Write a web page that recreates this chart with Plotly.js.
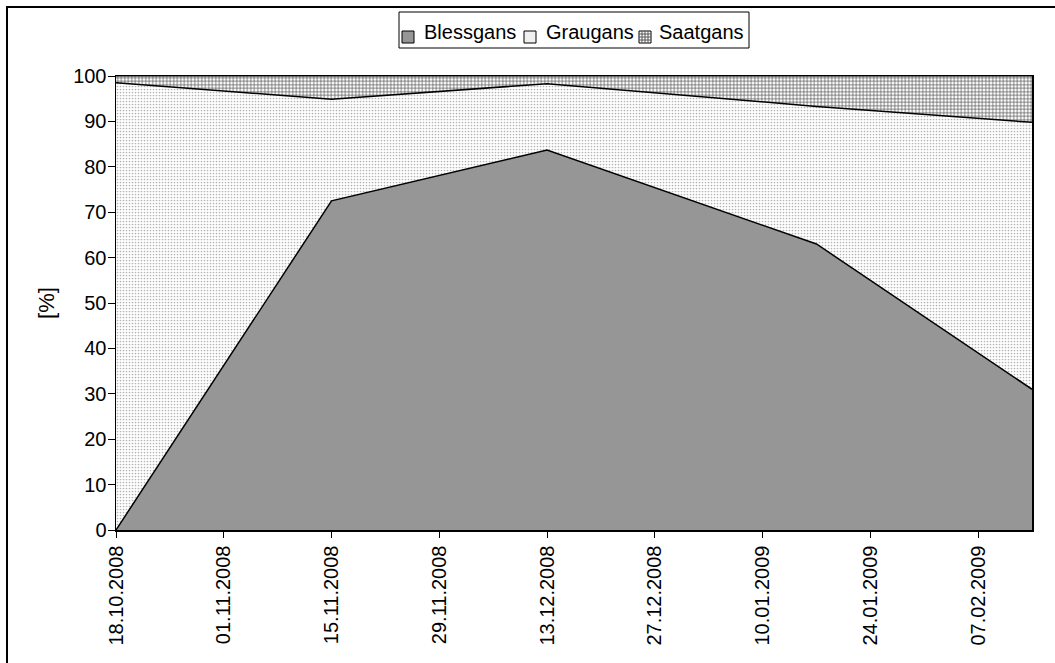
<!DOCTYPE html>
<html>
<head>
<meta charset="utf-8">
<script src="https://cdn.plot.ly/plotly-3.0.1.min.js"></script>
<style>
  html, body { margin: 0; padding: 0; background: #fff; overflow: hidden; }
  #wrap { position: relative; width: 1055px; height: 663px; }
  #chart { position: absolute; left: 0; top: 0; width: 1055px; height: 663px; }
  #frame { position: absolute; left: 6px; top: 6px; width: 1100px; height: 700px;
           border-left: 2px solid #000; border-top: 2px solid #000; pointer-events: none; }
</style>
</head>
<body>
<div id="wrap">
  <div id="chart"></div>
  <div id="frame"></div>
</div>
<script>
// Survey dates and species shares (percent of all geese counted)
const dates = ['2008-10-18', '2008-11-15', '2008-12-13', '2009-01-17', '2009-02-14'];
const blessgans = [0, 72.5, 83.7, 63.0, 31.0];
const graugans = [98.5, 22.4, 14.6, 30.3, 58.8];
const saatgans = [1.5, 5.1, 1.7, 6.7, 10.2];
const species = ['Blessgans', 'Graugans', 'Saatgans'];

const tickStart = '2008-10-18';
const tickStepDays = 14;

// Page geometry (px) of the plotting area
const W = 1055, H = 663;
const M = { l: 116, r: 23, t: 76, b: 133 };
const plotW = W - M.l - M.r, plotH = H - M.t - M.b;
const px2x = px => (px - M.l) / plotW;
const py2y = py => (H - M.b - py) / plotH;

const dotPattern = { shape: '.', size: 3, solidity: 0.25, fgcolor: '#b4b4b4', bgcolor: '#ffffff' };
const gridPattern = { shape: '+', size: 3.5, solidity: 0.35, fgcolor: '#4a4a4a', bgcolor: '#ffffff' };

const areas = [
  {
    name: species[0], x: dates, y: blessgans, type: 'scatter', mode: 'lines',
    stackgroup: 'g', line: { color: '#000', width: 1.5 },
    fillcolor: '#969696', showlegend: false
  },
  {
    name: species[1], x: dates, y: graugans, type: 'scatter', mode: 'lines',
    stackgroup: 'g', line: { color: '#000', width: 1.5 },
    fillcolor: '#ffffff', fillpattern: dotPattern, showlegend: false
  },
  {
    name: species[2], x: dates, y: saatgans, type: 'scatter', mode: 'lines',
    stackgroup: 'g', line: { color: '#000', width: 1 },
    fillcolor: '#ffffff', fillpattern: gridPattern, showlegend: false
  }
];

// Legend drawn as a framed row of keys and labels above the plot
const legendBox = { x0: 399, x1: 749, y0: 12, y1: 48 };
const keyLeft = [402, 524, 639];
const labelLeft = [422, 544, 657];
const keySize = 12, keyTop = 31, labelMid = 32;
const keyFill = ['#969696', '#f0f0f0', '#ffffff'];

const shapes = [{
  type: 'rect', xref: 'paper', yref: 'paper', layer: 'above',
  x0: px2x(legendBox.x0), x1: px2x(legendBox.x1),
  y0: py2y(legendBox.y1), y1: py2y(legendBox.y0),
  line: { color: '#000', width: 1 }, fillcolor: '#ffffff'
}];
const annotations = [];

species.forEach((name, i) => {
  const kx = keyLeft[i];
  shapes.push({
    type: 'rect', xref: 'paper', yref: 'paper', layer: 'above',
    x0: px2x(kx), x1: px2x(kx + keySize),
    y0: py2y(keyTop + keySize), y1: py2y(keyTop),
    line: { color: '#000', width: 1 }, fillcolor: keyFill[i]
  });
  if (i === 2) {
    // grid hatching of the Saatgans key
    let p = '';
    for (let s = 3; s < keySize; s += 3) {
      p += `M${s},0V${keySize}M0,${s}H${keySize}`;
    }
    shapes.push({
      type: 'path', xref: 'paper', yref: 'paper', layer: 'above',
      xsizemode: 'pixel', ysizemode: 'pixel',
      xanchor: px2x(kx), yanchor: py2y(keyTop + keySize),
      path: p, line: { color: '#555', width: 1 }
    });
  }
  annotations.push({
    xref: 'paper', yref: 'paper', showarrow: false,
    x: px2x(labelLeft[i]), xanchor: 'left',
    y: py2y(labelMid), yanchor: 'middle',
    text: name, font: { size: 20, color: '#000' }
  });
});

const layout = {
  width: W, height: H,
  margin: M,
  paper_bgcolor: '#ffffff', plot_bgcolor: '#ffffff',
  font: { family: 'Liberation Sans, Arial, sans-serif', size: 20, color: '#000' },
  showlegend: false,
  shapes: shapes,
  annotations: annotations,
  xaxis: {
    type: 'date',
    range: ['2008-10-18', '2009-02-14'],
    tick0: tickStart, dtick: tickStepDays * 86400000,
    tickformat: '%d.%m.%Y', tickangle: -90,
    ticks: 'outside', ticklen: 6, tickcolor: '#000', tickwidth: 1,
    showline: true, linecolor: '#000', linewidth: 1.5, mirror: true,
    showgrid: false, zeroline: false,
    tickfont: { size: 20 }
  },
  yaxis: {
    range: [0, 100], dtick: 10,
    ticks: 'outside', ticklen: 7, tickcolor: '#000', tickwidth: 1,
    ticklabelstandoff: -3,
    showline: true, linecolor: '#000', linewidth: 1.5, mirror: true,
    showgrid: false, zeroline: false,
    title: { text: '[%]', font: { size: 22 }, standoff: 12 },
    tickfont: { size: 20 }
  }
};

Plotly.newPlot('chart', areas, layout, { displayModeBar: false, staticPlot: true });
</script>
</body>
</html>
